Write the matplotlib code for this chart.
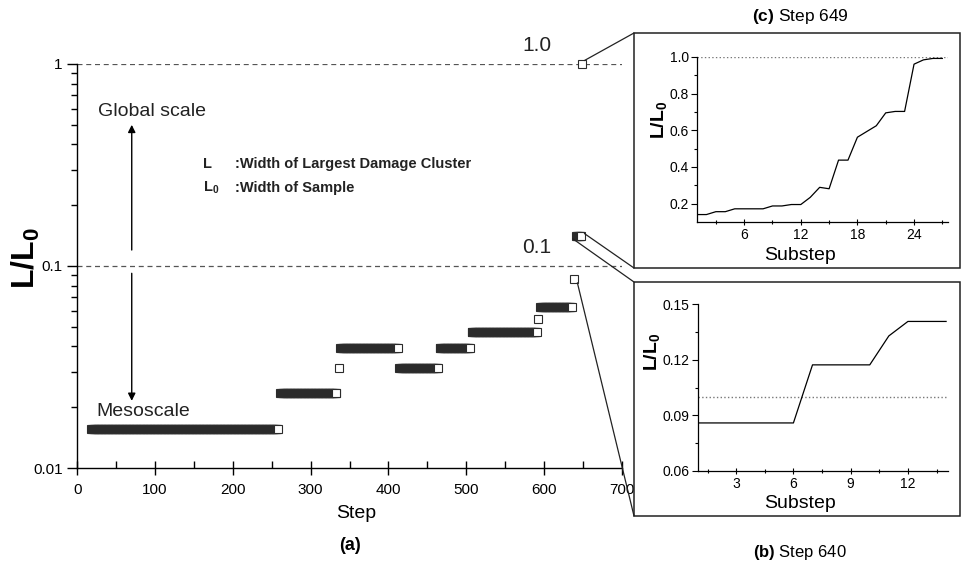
import numpy as np
import matplotlib
matplotlib.use('Agg')
import matplotlib.pyplot as plt
from matplotlib.patches import Rectangle, ConnectionPatch
from matplotlib.ticker import (FixedLocator, FixedFormatter, MultipleLocator,
                               LogLocator, NullFormatter, FormatStrFormatter)

plt.rcParams['font.family'] = ['Liberation Sans', 'DejaVu Sans']
plt.rcParams['mathtext.fontset'] = 'custom'
plt.rcParams['mathtext.rm'] = 'Liberation Sans'
plt.rcParams['mathtext.bf'] = 'Liberation Sans:bold'
plt.rcParams['mathtext.it'] = 'Liberation Sans:italic'

# plateaus of L/L0 over the simulation steps: first step, last step, value
seg_start = [18, 261, 336, 338, 414, 466, 507, 593, 595, 639, 641, 649]
seg_end = [258, 333, 336, 412, 464, 505, 591, 593, 636, 639, 648, 649]
seg_value = [0.0156, 0.0234, 0.0313, 0.0391, 0.0313, 0.0391, 0.0469,
             0.0547, 0.0625, 0.0859, 0.1406, 1.0]

# substeps inside step 640
sub_b = [1, 2, 3, 4, 5, 6, 7, 8, 9, 10, 11, 12, 13, 14]
val_b = [0.0859, 0.0859, 0.0859, 0.0859, 0.0859, 0.0859, 0.1172, 0.1172,
         0.1172, 0.1172, 0.1328, 0.1406, 0.1406, 0.1406]

# substeps inside step 649
sub_c = list(range(1, 28))
val_c = [0.1406, 0.1406, 0.1563, 0.1563, 0.1719, 0.1719, 0.1719, 0.1719,
         0.1875, 0.1875, 0.1953, 0.1953, 0.2344, 0.2891, 0.2813, 0.4375,
         0.4375, 0.5625, 0.5938, 0.625, 0.6953, 0.7031, 0.7031, 0.9609,
         0.9844, 0.9922, 0.9922]

W, H = 963, 563
fig = plt.figure(figsize=(W / 100, H / 100), dpi=100)


def fx(px):
    return px / W


def fy(py):
    return 1 - py / H


# ---- main panel (a) ----
ax = fig.add_axes([fx(77.3), fy(468), fx(621.7) - fx(77.3), fy(64) - fy(468)])
ax.set_yscale('log')
ax.set_xlim(0, 700)
ax.set_ylim(0.01, 1)
for s in ('top', 'right'):
    ax.spines[s].set_visible(False)
for s in ('left', 'bottom'):
    ax.spines[s].set_linewidth(1.0)

ax.axhline(1.0, color='#555555', ls=(0, (4, 3)), lw=0.9, zorder=1)
ax.axhline(0.1, color='#555555', ls=(0, (4, 3)), lw=0.9, zorder=1)

for a, b, v in zip(seg_start, seg_end, seg_value):
    steps = np.arange(a, b + 1)
    ax.plot(steps, np.full(len(steps), v), ls='none', marker='s', ms=5.8,
            mfc='white', mec='#2b2b2b', mew=0.8, zorder=3, clip_on=False)

ax.xaxis.set_major_locator(MultipleLocator(100))
ax.xaxis.set_minor_locator(MultipleLocator(50))
ax.yaxis.set_major_locator(FixedLocator([0.01, 0.1, 1]))
ax.yaxis.set_major_formatter(FixedFormatter(['0.01', '0.1', '1']))
ax.yaxis.set_minor_locator(LogLocator(base=10, subs=np.arange(2, 10)))
ax.yaxis.set_minor_formatter(NullFormatter())
ax.tick_params(axis='x', which='major', direction='inout', length=10,
               width=1.0, labelsize=11, pad=6)
ax.tick_params(axis='x', which='minor', direction='in', length=5, width=1.0)
ax.tick_params(axis='y', which='major', direction='out', length=7.5,
               width=1.0, labelsize=11, pad=3)
ax.tick_params(axis='y', which='minor', direction='out', length=4, width=1.0)

ax.annotate('', xy=(70, 0.50), xytext=(70, 0.12),
            arrowprops=dict(arrowstyle='-|>', lw=1.0, color='black',
                            mutation_scale=11, shrinkA=0, shrinkB=0))
ax.annotate('', xy=(70, 0.0215), xytext=(70, 0.092),
            arrowprops=dict(arrowstyle='-|>', lw=1.0, color='black',
                            mutation_scale=11, shrinkA=0, shrinkB=0))
ax.text(27, 0.58, 'Global scale', fontsize=14, va='center', ha='left',
        color='#222222')
ax.text(25, 0.0191, 'Mesoscale', fontsize=14, va='center', ha='left',
        color='#222222')
ax.text(162, 0.32, 'L', fontsize=10.5, fontweight='bold', va='center',
        color='#222222')
ax.text(203, 0.32, ':Width of Largest Damage Cluster', fontsize=10.5,
        fontweight='bold', va='center', color='#222222')
ax.text(162, 0.243, r'$\mathbf{L_0}$', fontsize=10.5, va='center',
        color='#222222')
ax.text(203, 0.243, ':Width of Sample', fontsize=10.5, fontweight='bold',
        va='center', color='#222222')
ax.text(591, 1.24, '1.0', fontsize=15, ha='center', va='center',
        color='#222222')
ax.text(591, 0.123, '0.1', fontsize=15, ha='center', va='center',
        color='#222222')

fig.text(fx(26), fy(258), r'$\mathbf{L/L_0}$', fontsize=23, rotation=90,
         ha='center', va='center')
fig.text(fx(356), fy(513), 'Step', fontsize=14, ha='center', va='center')
fig.text(fx(350), fy(545), '(a)', fontsize=13, fontweight='bold',
         ha='center', va='center')

# ---- inset frames ----
box_l, box_r = 634, 960
box_c = (33, 268)
box_b = (282, 516)
for top, bot in (box_c, box_b):
    fig.add_artist(Rectangle((fx(box_l), fy(bot)), fx(box_r) - fx(box_l),
                             fy(top) - fy(bot), transform=fig.transFigure,
                             fill=False, lw=1.1, ec='#222222'))


def style_inset(a):
    for s in ('top', 'right'):
        a.spines[s].set_visible(False)
    for s in ('left', 'bottom'):
        a.spines[s].set_linewidth(0.9)
    a.tick_params(which='major', direction='out', length=4, width=0.8,
                  labelsize=10, pad=2)
    a.tick_params(which='minor', direction='out', length=2.5, width=0.8)
    a.tick_params(axis='x', which='both', direction='inout')


# ---- inset (c): step 649 ----
axc = fig.add_axes([fx(697), fy(222), fx(948) - fx(697), fy(57) - fy(222)])
axc.set_xlim(1, 27.6)
axc.set_ylim(0.1, 1.0)
axc.axhline(1.0, color='#777777', ls=':', lw=1.0)
axc.plot(sub_c, val_c, color='black', lw=0.9)
axc.xaxis.set_major_locator(FixedLocator([6, 12, 18, 24]))
axc.xaxis.set_minor_locator(FixedLocator([3, 9, 15, 21, 27]))
axc.yaxis.set_major_locator(FixedLocator([0.2, 0.4, 0.6, 0.8, 1.0]))
axc.yaxis.set_major_formatter(FormatStrFormatter('%.1f'))
axc.yaxis.set_minor_locator(FixedLocator([0.3, 0.5, 0.7, 0.9]))
style_inset(axc)
fig.text(fx(659), fy(120), r'$\mathbf{L/L_0}$', fontsize=14, rotation=90,
         ha='center', va='center')
fig.text(fx(800), fy(255), 'Substep', fontsize=14, ha='center', va='center')
fig.text(fx(800), fy(16), r'$\mathbf{(c)}$ Step 649', fontsize=12.5,
         ha='center', va='center')

# ---- inset (b): step 640 ----
axb = fig.add_axes([fx(698), fy(471), fx(948) - fx(698), fy(304) - fy(471)])
axb.set_xlim(1, 14.1)
axb.set_ylim(0.06, 0.15)
axb.axhline(0.1, color='#777777', ls=':', lw=1.0)
axb.plot(sub_b, val_b, color='black', lw=0.9)
axb.xaxis.set_major_locator(FixedLocator([3, 6, 9, 12]))
axb.xaxis.set_minor_locator(FixedLocator([1.5, 4.5, 7.5, 10.5, 13.5]))
axb.yaxis.set_major_locator(FixedLocator([0.06, 0.09, 0.12, 0.15]))
axb.yaxis.set_major_formatter(FormatStrFormatter('%.2f'))
axb.yaxis.set_minor_locator(FixedLocator([0.075, 0.105, 0.135]))
style_inset(axb)
fig.text(fx(652), fy(352), r'$\mathbf{L/L_0}$', fontsize=14, rotation=90,
         ha='center', va='center')
fig.text(fx(800), fy(503), 'Substep', fontsize=14, ha='center', va='center')
fig.text(fx(800), fy(552), r'$\mathbf{(b)}$ Step 640', fontsize=12,
         ha='center', va='center')

# ---- zoom connectors from the main panel to the insets ----
links = [
    ((652, 1.0 * 1.04), (box_l, box_c[0])),
    ((652, 0.1406 * 1.03), (box_l, box_c[1])),
    ((637, 0.1406 / 1.03), (box_l, box_b[0])),
    ((643, 0.0859 / 1.04), (box_l, box_b[1])),
]
for (sx, sy), (px, py) in links:
    fig.add_artist(ConnectionPatch(xyA=(sx, sy), coordsA=ax.transData,
                                   xyB=(fx(px), fy(py)),
                                   coordsB=fig.transFigure,
                                   lw=0.9, color='#222222'))

fig.savefig('out.png', dpi=100)
